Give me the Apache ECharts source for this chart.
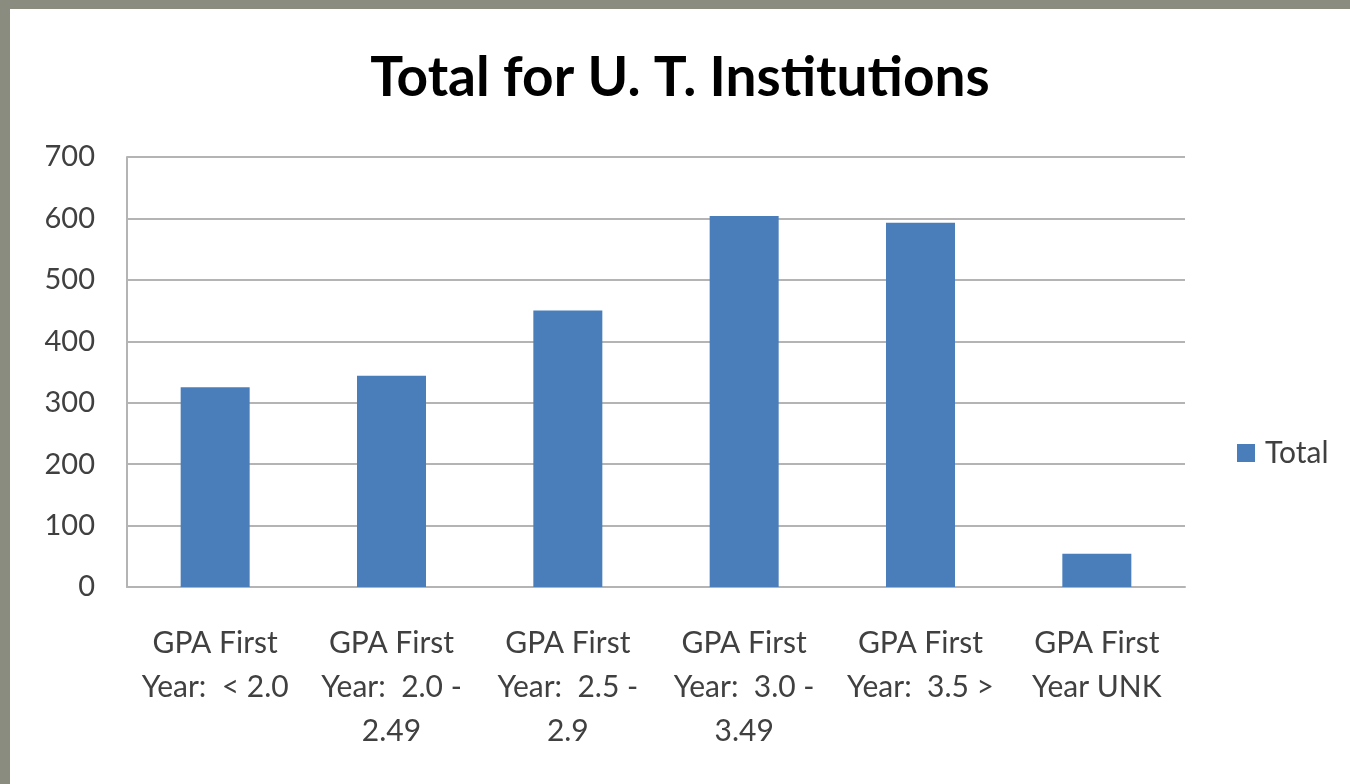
<!DOCTYPE html>
<html>
<head>
<meta charset="utf-8">
<script src="https://cdn.jsdelivr.net/npm/echarts@6/dist/echarts.min.js"></script>
<style>
  html, body {
    margin: 0;
    padding: 0;
    width: 1350px;
    height: 784px;
    background: #8b8c80;
    overflow: hidden;
  }
  #chart {
    position: absolute;
    left: 10px;
    top: 9px;
    width: 1340px;
    height: 775px;
    background: #ffffff;
  }
</style>
</head>
<body>
<div id="chart"></div>
<script>
const categories = [
  'GPA First\nYear:  < 2.0',
  'GPA First\nYear:  2.0 -\n2.49',
  'GPA First\nYear:  2.5 -\n2.9',
  'GPA First\nYear:  3.0 -\n3.49',
  'GPA First\nYear:  3.5 >',
  'GPA First\nYear UNK'
]
const totals = [325, 344, 450, 604, 593, 54]
const yTicks = { min: 0, max: 700, interval: 100 }

const chart = echarts.init(document.getElementById('chart'))

const labelFont = 'Lato, "Open Sans", sans-serif'

chart.setOption({
  backgroundColor: '#ffffff',
  animation: false,
  title: {
    text: 'Total for U. T. Institutions',
    left: 'center',
    top: 34,
    textStyle: {
      fontFamily: labelFont,
      fontWeight: 'bold',
      fontSize: 55,
      lineHeight: 60,
      color: '#000000'
    }
  },
  legend: {
    data: ['Total'],
    orient: 'vertical',
    left: 1222,
    top: 424,
    itemWidth: 18,
    itemHeight: 18,
    itemGap: 10,
    icon: 'rect',
    textStyle: {
      fontFamily: labelFont,
      fontSize: 30,
      color: '#404040',
      padding: [0, 0, 0, 5]
    }
  },
  grid: {
    left: 117,
    right: 165,
    top: 148,
    bottom: 197,
    containLabel: false
  },
  xAxis: {
    type: 'category',
    data: categories,
    axisLine: { lineStyle: { color: '#b4b4b4', width: 2 } },
    axisTick: { show: false },
    axisLabel: {
      interval: 0,
      margin: 34,
      fontFamily: labelFont,
      fontSize: 30,
      lineHeight: 44,
      color: '#404040'
    }
  },
  yAxis: {
    type: 'value',
    min: yTicks.min,
    max: yTicks.max,
    interval: yTicks.interval,
    axisLine: { show: true, lineStyle: { color: '#b4b4b4', width: 2 } },
    axisTick: { show: false },
    splitLine: { lineStyle: { color: '#b4b4b4', width: 2 } },
    axisLabel: {
      margin: 32,
      fontFamily: labelFont,
      fontSize: 29,
      color: '#404040'
    }
  },
  series: [
    {
      name: 'Total',
      type: 'bar',
      data: totals,
      barWidth: 69,
      itemStyle: { color: '#4a7ebb' }
    }
  ]
})
</script>
</body>
</html>
